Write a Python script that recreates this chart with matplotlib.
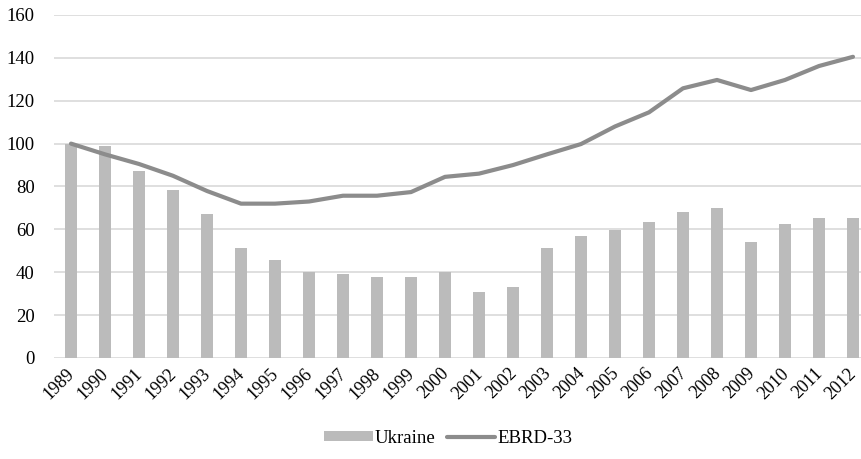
import numpy as np
import matplotlib.pyplot as plt
from matplotlib.transforms import ScaledTranslation

years = [str(y) for y in range(1989, 2013)]
ukraine = [100, 99, 87, 78.4, 67.2, 51.4, 45.9, 40.3, 39.3, 37.6, 37.6, 40.3,
           31, 33, 51.4, 57, 59.8, 63.6, 68.1, 70, 54.3, 62.7, 65.3, 65.3]
ebrd33 = [100, 95, 90.5, 85, 77.9, 72, 72, 73, 75.7, 75.7, 77.4, 84.5,
          86, 90, 95, 99.8, 108, 114.6, 125.8, 129.7, 125, 129.7, 136.2, 140.5]

plt.rcParams['font.family'] = ['Liberation Serif', 'DejaVu Serif']

fig = plt.figure(figsize=(8.61, 4.59), dpi=100)
ax = fig.add_axes([54 / 861, 101 / 459, 816 / 861, 343 / 459])

x = np.arange(len(years))
bars = ax.bar(x, ukraine, width=0.33, color='#bbbbbb', label='Ukraine', zorder=2)
line, = ax.plot(x, ebrd33, color='#8c8c8c', lw=3, label='EBRD-33', zorder=3,
                solid_capstyle='round')

ax.set_ylim(0, 160)
ax.set_yticks(range(0, 161, 20))
ax.set_xlim(-0.5, len(years) - 0.5)
ax.set_xticks(x)
ax.set_xticklabels(years, rotation=45, ha='right', rotation_mode='anchor')
ax.tick_params(axis='y', length=0, labelsize=13.5, pad=14)
ax.tick_params(axis='x', length=0, labelsize=13, pad=5)
# nudge year labels a little to the left so the last one stays inside
shift = ScaledTranslation(-5 / 100, 0, fig.dpi_scale_trans)
for lab in ax.get_xticklabels():
    lab.set_transform(lab.get_transform() + shift)
ax.grid(axis='y', color='#d9d9d9', lw=1.2, zorder=0)
ax.set_axisbelow(True)
for s in ax.spines.values():
    s.set_visible(False)

fig.legend([bars, line], ['Ukraine', 'EBRD-33'], loc='lower center',
           bbox_to_anchor=(448 / 861, -0.01), ncol=2,
           frameon=False, fontsize=13.5, handlelength=2.6, handleheight=0.5,
           columnspacing=0.6, handletextpad=0.1)

fig.savefig('out.png', dpi=100)
